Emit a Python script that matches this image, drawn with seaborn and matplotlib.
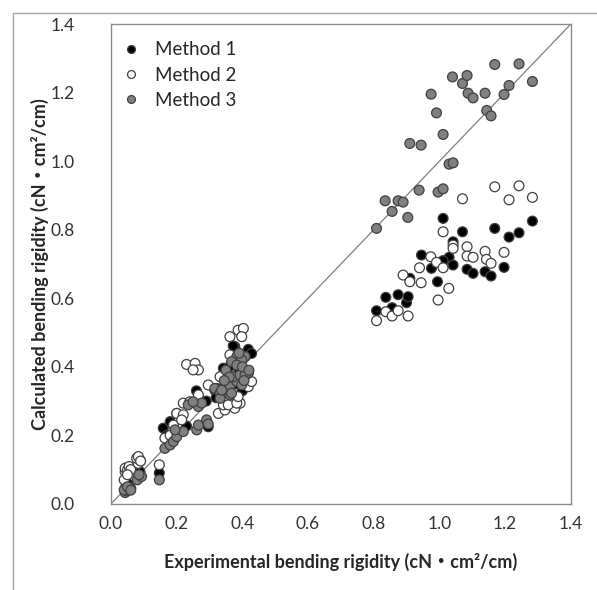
import pandas as pd
import matplotlib
matplotlib.use("Agg")
import matplotlib.pyplot as plt
import seaborn as sns
from matplotlib.patches import Rectangle

# Experimental vs calculated bending rigidity, three methods

m1_x = [0.045, 0.05, 0.06, 0.088, 0.085, 0.147, 0.159, 0.17, 0.18, 0.2, 0.23, 0.296, 0.29, 0.26,
        0.316, 0.322, 0.32, 0.342, 0.35, 0.36, 0.377, 0.372, 0.38, 0.39, 0.4, 0.41, 0.418, 0.428,
        0.8086, 0.8369, 0.856, 0.8743, 0.8999, 0.9047, 0.9099, 0.9455, 0.9759, 0.9942, 1.0113,
        1.0113, 1.0295, 1.0417, 1.0417, 1.0703, 1.0843, 1.1026, 1.1391, 1.1573, 1.1686, 1.1969,
        1.2121, 1.2425, 1.2833, 1.0113]
m1_y = [0.05, 0.06, 0.045, 0.094, 0.08, 0.09, 0.221, 0.20, 0.24, 0.264, 0.227, 0.225, 0.30, 0.33,
        0.332, 0.337, 0.31, 0.396, 0.37, 0.40, 0.459, 0.461, 0.35, 0.39, 0.33, 0.37, 0.451, 0.439,
        0.5637, 0.6028, 0.5725, 0.6104, 0.587, 0.6046, 0.6582, 0.7262, 0.6874, 0.6483, 0.7095,
        0.8332, 0.7195, 0.7650, 0.6970, 0.7941, 0.6845, 0.6728, 0.6775, 0.6649, 0.8040, 0.6903,
        0.7786, 0.7912, 0.8253, 0.7095]

m2_x = [0.043, 0.043, 0.05, 0.04, 0.055, 0.06, 0.05, 0.083, 0.088, 0.078, 0.083, 0.09, 0.147,
        0.164, 0.18, 0.19, 0.2, 0.22, 0.215, 0.22, 0.24, 0.266, 0.296, 0.332, 0.23, 0.256, 0.266,
        0.25, 0.327, 0.347, 0.377, 0.393, 0.342, 0.357, 0.383, 0.362, 0.387, 0.418, 0.428, 0.362,
        0.387, 0.403, 0.398, 0.362,
        0.8086, 0.8369, 0.856, 0.8743, 0.8895, 0.9047, 0.9099, 0.9394, 0.9443, 0.9738, 0.9912,
        0.996, 1.0113, 1.0113, 1.0286, 1.0417, 1.0417, 1.0703, 1.0843, 1.0843, 1.1026, 1.1391,
        1.1433, 1.1573, 1.1686, 1.1969, 1.2121, 1.2425, 1.2833]
m2_y = [0.094, 0.104, 0.099, 0.07, 0.109, 0.10, 0.085, 0.118, 0.128, 0.133, 0.138, 0.125, 0.114,
        0.192, 0.20, 0.23, 0.264, 0.26, 0.245, 0.294, 0.298, 0.318, 0.347, 0.371, 0.407, 0.41, 0.391,
        0.391, 0.264, 0.274, 0.279, 0.294, 0.289, 0.289, 0.294, 0.318, 0.313, 0.342, 0.357, 0.488,
        0.507, 0.512, 0.488, 0.435,
        0.5346, 0.5608, 0.5483, 0.5637, 0.6678, 0.5483, 0.6483, 0.6891, 0.6454, 0.7212, 0.7049,
        0.5949, 0.7941, 0.6891, 0.6290, 0.7553, 0.7457, 0.8904, 0.7504, 0.7233, 0.7195, 0.7370,
        0.7136, 0.7020, 0.9254, 0.7340, 0.8875, 0.9283, 0.8945]

m3_x = [0.043, 0.048, 0.04, 0.055, 0.05, 0.06, 0.08, 0.093, 0.085, 0.147, 0.164, 0.18, 0.19, 0.2,
        0.22, 0.195, 0.261, 0.266, 0.291, 0.296, 0.235, 0.266, 0.276, 0.25, 0.316, 0.332, 0.347,
        0.362, 0.383, 0.398, 0.372, 0.393, 0.413, 0.332, 0.362, 0.383, 0.408, 0.398, 0.367, 0.383,
        0.418, 0.408, 0.337, 0.367, 0.35, 0.36, 0.4, 0.42, 0.345, 0.39, 0.405,
        0.8086, 0.8348, 0.856, 0.8743, 0.8895, 0.9038, 0.9099, 0.9382, 0.9443, 0.9747, 0.9912,
        0.996, 1.0113, 1.0113, 1.0295, 1.0399, 1.0417, 1.0703, 1.0843, 1.0873, 1.1026, 1.1391,
        1.1442, 1.1573, 1.1686, 1.1969, 1.2121, 1.2425, 1.2833]
m3_y = [0.033, 0.038, 0.041, 0.045, 0.05, 0.04, 0.07, 0.08, 0.085, 0.07, 0.162, 0.172, 0.182, 0.196,
        0.211, 0.216, 0.216, 0.23, 0.245, 0.233, 0.289, 0.284, 0.294, 0.298, 0.337, 0.323, 0.352,
        0.342, 0.357, 0.347, 0.371, 0.376, 0.381, 0.308, 0.318, 0.43, 0.43, 0.42, 0.415, 0.405,
        0.381, 0.376, 0.332, 0.323, 0.39, 0.37, 0.40, 0.39, 0.36, 0.44, 0.36,
        0.8040, 0.8845, 0.8536, 0.8845, 0.8807, 0.8361, 1.0519, 0.9157, 1.0470, 1.1957, 1.1412,
        0.9099, 1.0782, 0.9195, 0.9915, 1.2461, 0.9953, 1.2269, 1.2502, 1.1986, 1.1849, 1.1986,
        1.1482, 1.1324, 1.2823, 1.1948, 1.2211, 1.2841, 1.2327]

methods = ["Method 1", "Method 2", "Method 3"]
colores = {"Method 1": "#000000", "Method 2": "#ffffff", "Method 3": "#808080"}

df = pd.DataFrame({
    "exp": m1_x + m2_x + m3_x,
    "calc": m1_y + m2_y + m3_y,
    "metodo": [methods[0]] * len(m1_x) + [methods[1]] * len(m2_x) + [methods[2]] * len(m3_x),
})

sns.set_style("white")
plt.rcParams["font.family"] = ["Lato", "Noto Sans CJK JP", "DejaVu Sans"]

fig = plt.figure(figsize=(5.97, 5.90), dpi=100)
ax = fig.add_axes([0.186, 0.146, 0.770, 0.813])

ax.axline((0, 0), slope=1, color="#7f7f7f", lw=0.9, zorder=1)
sns.scatterplot(data=df, x="exp", y="calc", hue="metodo", palette=colores, hue_order=methods,
                s=50, edgecolor="#404040", linewidth=0.9, ax=ax, zorder=3)

ax.set_xlim(0, 1.4)
ax.set_ylim(0, 1.4)
ticks = [0.0, 0.2, 0.4, 0.6, 0.8, 1.0, 1.2, 1.4]
ax.set_xticks(ticks)
ax.set_yticks(ticks)
ax.set_xticklabels([f"{t:.1f}" for t in ticks])
ax.set_yticklabels([f"{t:.1f}" for t in ticks])
ax.tick_params(axis="both", direction="in", length=5, width=0.8, color="#888888",
               labelsize=12.5, labelcolor="#333333")
ax.tick_params(axis="x", pad=9)
ax.tick_params(axis="y", pad=26)
for sp in ax.spines.values():
    sp.set_color("#8c8c8c")
    sp.set_linewidth(1.0)

ax.set_xlabel("Experimental bending rigidity (cN\u30fbcm\u00b2/cm)", fontsize=13,
              fontweight="bold", labelpad=15)
ax.set_ylabel("Calculated bending rigidity (cN\u30fbcm\u00b2/cm)", fontsize=13,
              fontweight="bold", labelpad=1)

leg = ax.legend(loc="upper left", bbox_to_anchor=(-0.035, 1.0), frameon=False, fontsize=13.5,
                handletextpad=0.3, labelspacing=0.45, markerscale=0.8, borderaxespad=0.5)
for h in leg.legend_handles:
    h.set_markeredgecolor("#404040")

fig.patches.append(Rectangle((13 / 597, -0.1), 1.2, 1 - 13 / 590 + 0.1, transform=fig.transFigure,
                             fill=False, edgecolor="#a6a6a6", lw=1.0))

plt.savefig("out.png", dpi=100)
plt.close()
